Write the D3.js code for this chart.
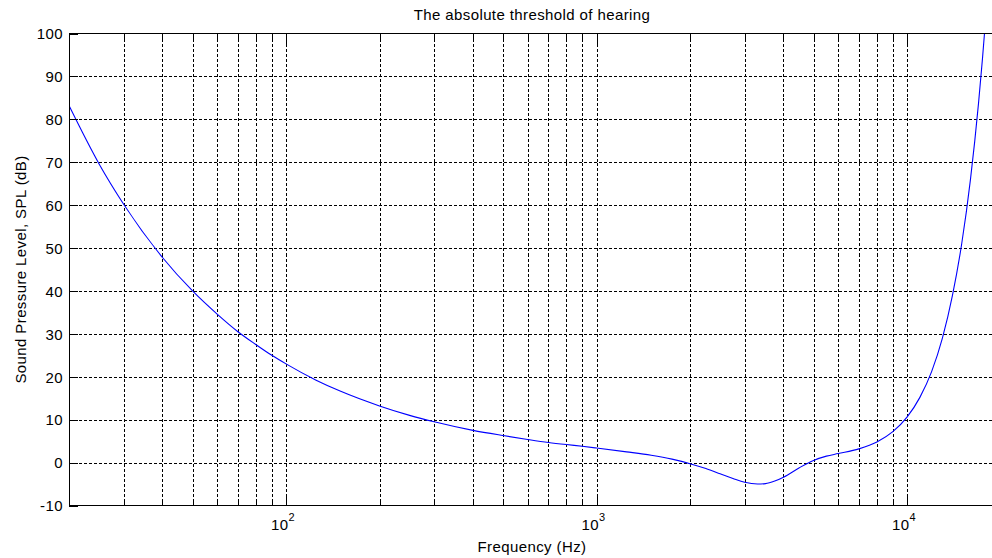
<!DOCTYPE html>
<html lang="en">
<head>
  <meta charset="UTF-8">
  <title>The absolute threshold of hearing</title>
  <script src="https://d3js.org/d3.v7.min.js"></script>
  <style>
    body {
      margin: 0;
      padding: 0;
      background: #fff;
    }
    svg text {
      font-family: "Liberation Sans", Arial, sans-serif;
      font-size: 15px;
      letter-spacing: 0.4px;
      fill: #000;
    }
    .grid line {
      stroke: #000;
      stroke-width: 1;
      stroke-dasharray: 3,2;
      shape-rendering: crispEdges;
    }
    .curve {
      fill: none;
      stroke: #0000ff;
      stroke-width: 1.1;
    }
  </style>
</head>
<body>
  <div id="chart"></div>
  <script>
// values (Hz, dB SPL)
const freqHz = [20, 25, 30, 40, 50, 60, 70, 80, 90, 100, 125, 150, 200, 250, 300, 400, 500,
  600, 700, 800, 900, 1000, 1250, 1500, 1750, 2000, 2250, 2500, 2750, 3000, 3300, 3500,
  3750, 4000, 4500, 5000, 5500, 6000, 7000, 8000, 9000, 10000, 11000, 12000, 13000,
  14000, 15000, 16000, 17000, 17500, 18000];
const thresholdDb = [83.2, 69.6, 60.2, 47.8, 40.0, 34.6, 30.5, 27.5, 25.0, 23.0, 19.2, 16.6,
  13.2, 11.0, 9.5, 7.5, 6.3, 5.4, 4.7, 4.2, 3.8, 3.4, 2.5, 1.7, 0.8, -0.25, -1.4, -2.6,
  -3.7, -4.6, -5.0, -4.9, -4.3, -3.4, -1.2, 0.5, 1.5, 2.1, 3.2, 4.8, 7.2, 10.6, 15.2, 21.2,
  29.0, 38.9, 51.0, 65.9, 83.9, 94.2, 105.3];

const yTicks = [-10, 0, 10, 20, 30, 40, 50, 60, 70, 80, 90, 100];
const xMajor = [100, 1000, 10000];
const xMinor = [20, 30, 40, 50, 60, 70, 80, 90, 200, 300, 400, 500, 600, 700, 800, 900,
  2000, 3000, 4000, 5000, 6000, 7000, 8000, 9000, 20000];
const xExponents = ["2", "3", "4"];

const width = 992, height = 558;
const plotLeft = 69, plotRight = 1000.5, plotTop = 33.5, plotBottom = 505.5;

const x = d3.scaleLog().domain([20, 20000]).range([plotLeft, plotRight]);
const y = d3.scaleLinear().domain([-10, 100]).range([plotBottom, plotTop]);

const svg = d3.select("#chart")
  .append("svg")
  .attr("width", width)
  .attr("height", height);

svg.append("defs").append("clipPath")
  .attr("id", "plot-clip")
  .append("rect")
  .attr("x", plotLeft).attr("y", plotTop)
  .attr("width", plotRight - plotLeft).attr("height", plotBottom - plotTop);

// grid
const grid = svg.append("g").attr("class", "grid");
grid.selectAll("line.h")
  .data(yTicks.slice(1, -1))
  .join("line")
  .attr("class", "h")
  .attr("x1", plotLeft).attr("x2", plotRight)
  .attr("y1", d => Math.round(y(d)) + 0.5)
  .attr("y2", d => Math.round(y(d)) + 0.5);
grid.selectAll("line.v")
  .data(xMajor.concat(xMinor))
  .join("line")
  .attr("class", "v")
  .attr("x1", d => Math.round(x(d)) + 0.5)
  .attr("x2", d => Math.round(x(d)) + 0.5)
  .attr("y1", plotTop).attr("y2", plotBottom);

// curve
const line = d3.line()
  .x((d, i) => x(freqHz[i]))
  .y(d => y(d))
  .curve(d3.curveMonotoneX);

svg.append("path")
  .datum(thresholdDb)
  .attr("class", "curve")
  .attr("clip-path", "url(#plot-clip)")
  .attr("d", line);

// axes (ticks point inward like MATLAB)
function styleAxis(g) {
  g.attr("font-size", null).attr("font-family", null);
  g.selectAll("line").attr("stroke", "#000").attr("shape-rendering", "crispEdges");
  g.select(".domain").remove();
}

svg.append("g")
  .attr("transform", `translate(${plotLeft},0)`)
  .call(d3.axisLeft(y).tickValues(yTicks).tickFormat(d => String(d))
    .tickSizeInner(-9).tickSizeOuter(0).tickPadding(6))
  .call(styleAxis)
  .call(g => g.selectAll("text").attr("dy", "0.35em"));

svg.append("g")
  .attr("transform", `translate(0,${plotBottom})`)
  .call(d3.axisBottom(x).tickValues(xMajor).tickSizeInner(-10).tickSizeOuter(0).tickFormat(""))
  .call(styleAxis);
svg.append("g")
  .attr("transform", `translate(0,${plotBottom})`)
  .call(d3.axisBottom(x).tickValues(xMinor).tickSizeInner(-5).tickSizeOuter(0).tickFormat(""))
  .call(styleAxis);
svg.append("g")
  .attr("transform", `translate(0,${plotTop})`)
  .call(d3.axisTop(x).tickValues(xMajor).tickSizeInner(-10).tickSizeOuter(0).tickFormat(""))
  .call(styleAxis);
svg.append("g")
  .attr("transform", `translate(0,${plotTop})`)
  .call(d3.axisTop(x).tickValues(xMinor).tickSizeInner(-5).tickSizeOuter(0).tickFormat(""))
  .call(styleAxis);

// box
svg.append("rect")
  .attr("x", plotLeft).attr("y", plotTop)
  .attr("width", plotRight - plotLeft).attr("height", plotBottom - plotTop)
  .attr("fill", "none")
  .attr("stroke", "#000")
  .attr("shape-rendering", "crispEdges");

// x tick labels 10^n
const xl = svg.append("g");
xMajor.forEach((v, i) => {
  const t = xl.append("text")
    .attr("x", x(v) - 3)
    .attr("y", 530)
    .attr("text-anchor", "middle");
  t.append("tspan").text("10");
  t.append("tspan")
    .attr("dy", -9)
    .attr("font-size", "11px")
    .text(xExponents[i]);
});

// labels
svg.append("text")
  .attr("x", 532).attr("y", 20)
  .attr("text-anchor", "middle")
  .text("The absolute threshold of hearing");

svg.append("text")
  .attr("x", 532).attr("y", 552)
  .attr("text-anchor", "middle")
  .text("Frequency (Hz)");

svg.append("text")
  .attr("transform", `translate(26,${(plotTop + plotBottom) / 2}) rotate(-90)`)
  .attr("text-anchor", "middle")
  .text("Sound Pressure Level, SPL (dB)");
  </script>
</body>
</html>
